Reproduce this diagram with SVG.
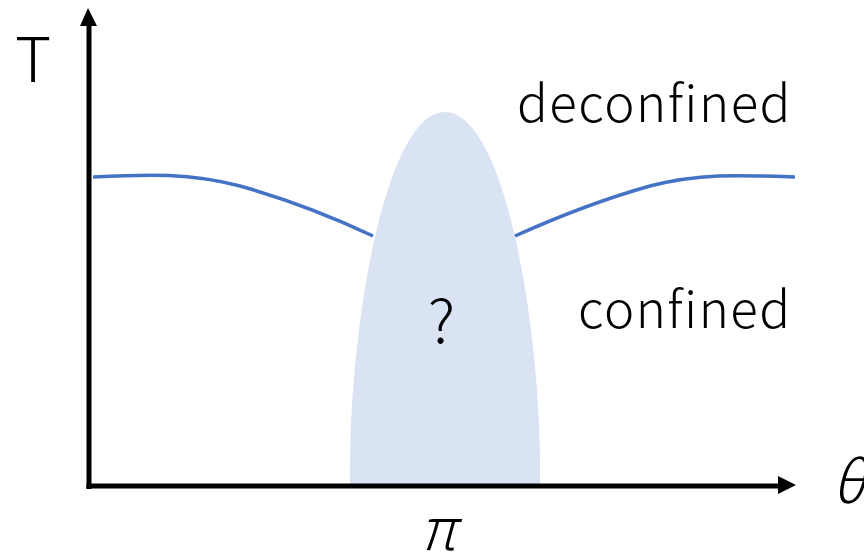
<svg xmlns="http://www.w3.org/2000/svg" width="864" height="553" viewBox="0 0 864 553">
<style>
.lbl{font-family:"Noto Sans CJK JP","Noto Sans",sans-serif;font-weight:300;fill:#000}
.ax{stroke:#000;stroke-width:5;fill:none}
.curve{stroke:#4472C4;stroke-width:3.5;fill:none}
</style>
<rect width="864" height="553" fill="#fff"/>
<g id="region">
<path d="M350,484 C348,330 385,112 445,112 C505,112 542,330 540,484 Z" fill="#DAE3F3"/>
</g>
<g id="connectors">
<path class="curve" d="M93,177 C150,174 190,173 240,186 C290,200 335,218 373,236"/>
<path class="curve" d="M515,236 C555,218 600,200 650,186 C700,173 740,175 795,177"/>
</g>
<g id="axes">
<line class="ax" x1="89" y1="489" x2="89" y2="24"/>
<polygon points="88,8 80,26 97,26" fill="#000"/>
<line class="ax" x1="86.5" y1="486" x2="780" y2="486"/>
<polygon points="796,485 778,476 778,494" fill="#000"/>
</g>
<g id="labels">
<text class="lbl" x="15" y="82" font-size="62">T</text>
<text class="lbl" x="517" y="122" font-size="51" letter-spacing="1.5">deconfined</text>
<text class="lbl" x="578" y="328" font-size="51" letter-spacing="1.5">confined</text>
<text class="lbl" x="428" y="343" font-size="60">?</text>
<text class="lbl" x="420" y="550" font-size="58" font-style="italic">π</text>
<text class="lbl" x="832" y="503" font-size="58" font-style="italic">θ</text>
</g>
</svg>
